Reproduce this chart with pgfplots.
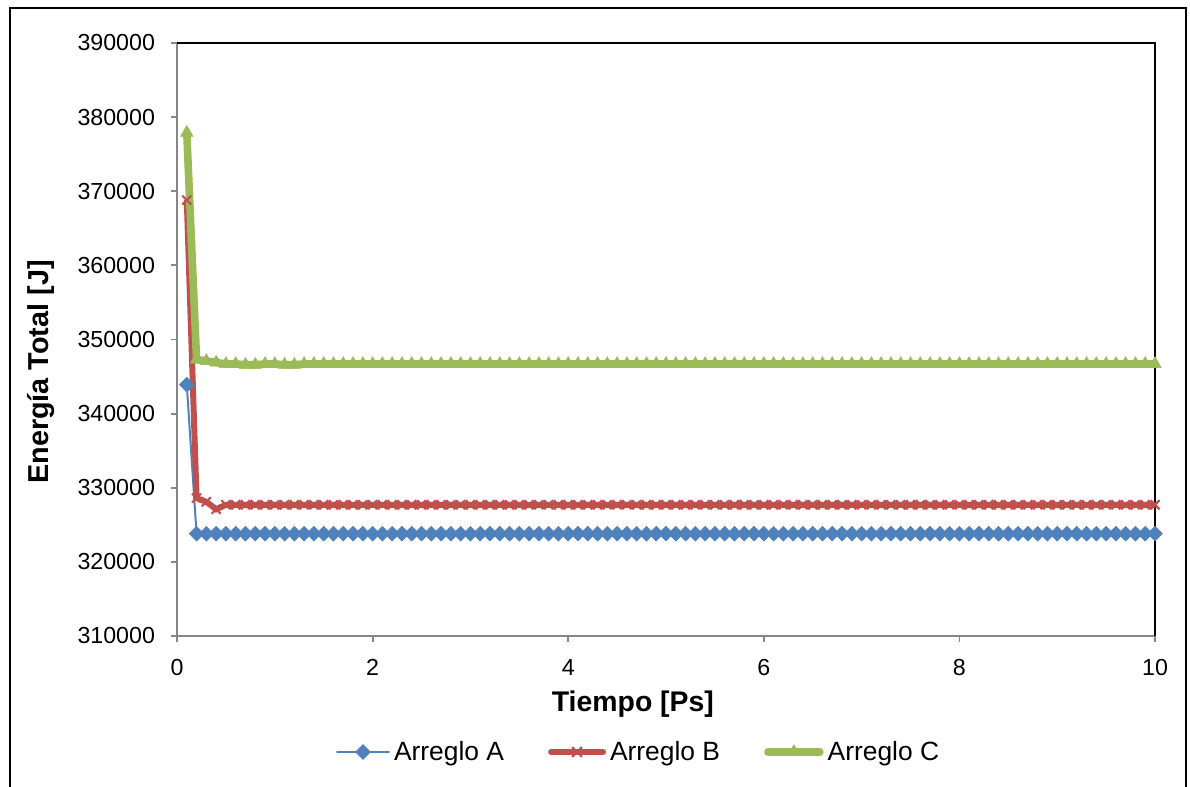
\documentclass[border=0pt]{standalone}
\usepackage{pgfplots}
\pgfplotsset{compat=1.18}
\usepackage{pgfplotstable}
\usepackage{fontspec}
\setmainfont{Liberation Sans}
\definecolor{serA}{HTML}{4F81BD}
\definecolor{serB}{HTML}{C0504D}
\definecolor{serC}{HTML}{9BBB59}
\definecolor{axgray}{HTML}{868686}

\pgfplotstableread{
x a b c
0.1 343900 368800 377900
0.2 323800 328600 347300
0.3 323800 328100 347100
0.4 323800 327100 346900
0.5 323800 327700 346700
0.6 323800 327700 346700
0.7 323800 327700 346600
0.8 323800 327700 346600
0.9 323800 327700 346700
1.0 323800 327700 346700
1.1 323800 327700 346600
1.2 323800 327700 346600
1.3 323800 327700 346700
1.4 323800 327700 346700
1.5 323800 327700 346700
1.6 323800 327700 346700
1.7 323800 327700 346700
1.8 323800 327700 346700
1.9 323800 327700 346700
2.0 323800 327700 346700
2.1 323800 327700 346700
2.2 323800 327700 346700
2.3 323800 327700 346700
2.4 323800 327700 346700
2.5 323800 327700 346700
2.6 323800 327700 346700
2.7 323800 327700 346700
2.8 323800 327700 346700
2.9 323800 327700 346700
3.0 323800 327700 346700
3.1 323800 327700 346700
3.2 323800 327700 346700
3.3 323800 327700 346700
3.4 323800 327700 346700
3.5 323800 327700 346700
3.6 323800 327700 346700
3.7 323800 327700 346700
3.8 323800 327700 346700
3.9 323800 327700 346700
4.0 323800 327700 346700
4.1 323800 327700 346700
4.2 323800 327700 346700
4.3 323800 327700 346700
4.4 323800 327700 346700
4.5 323800 327700 346700
4.6 323800 327700 346700
4.7 323800 327700 346700
4.8 323800 327700 346700
4.9 323800 327700 346700
5.0 323800 327700 346700
5.1 323800 327700 346700
5.2 323800 327700 346700
5.3 323800 327700 346700
5.4 323800 327700 346700
5.5 323800 327700 346700
5.6 323800 327700 346700
5.7 323800 327700 346700
5.8 323800 327700 346700
5.9 323800 327700 346700
6.0 323800 327700 346700
6.1 323800 327700 346700
6.2 323800 327700 346700
6.3 323800 327700 346700
6.4 323800 327700 346700
6.5 323800 327700 346700
6.6 323800 327700 346700
6.7 323800 327700 346700
6.8 323800 327700 346700
6.9 323800 327700 346700
7.0 323800 327700 346700
7.1 323800 327700 346700
7.2 323800 327700 346700
7.3 323800 327700 346700
7.4 323800 327700 346700
7.5 323800 327700 346700
7.6 323800 327700 346700
7.7 323800 327700 346700
7.8 323800 327700 346700
7.9 323800 327700 346700
8.0 323800 327700 346700
8.1 323800 327700 346700
8.2 323800 327700 346700
8.3 323800 327700 346700
8.4 323800 327700 346700
8.5 323800 327700 346700
8.6 323800 327700 346700
8.7 323800 327700 346700
8.8 323800 327700 346700
8.9 323800 327700 346700
9.0 323800 327700 346700
9.1 323800 327700 346700
9.2 323800 327700 346700
9.3 323800 327700 346700
9.4 323800 327700 346700
9.5 323800 327700 346700
9.6 323800 327700 346700
9.7 323800 327700 346700
9.8 323800 327700 346700
9.9 323800 327700 346700
10.0 323800 327700 346700
}\data

\begin{document}
\begin{tikzpicture}
\useasboundingbox (0pt,0pt) rectangle (595pt,393.5pt);
\draw[black, line width=1pt] (5pt,-5pt) -- (5pt,389.5pt) -- (593pt,389.5pt) -- (593pt,-5pt);
\begin{axis}[
  at={(88.5pt,75.5pt)}, anchor=south west,
  scale only axis, width=489pt, height=296.5pt,
  xmin=0, xmax=10, ymin=310000, ymax=390000,
  xtick={0,2,4,6,8,10},
  ytick={310000,320000,330000,340000,350000,360000,370000,380000,390000},
  scaled y ticks=false,
  yticklabel style={/pgf/number format/fixed, /pgf/number format/1000 sep={}, xshift=-4.5pt},
  xticklabel style={yshift=-5pt},
  /pgf/number format/assume math mode=true,
  ticklabel style={font=\fontsize{11.6}{13}\selectfont},
  axis x line*=bottom, axis y line*=left,
  axis line style={axgray, line width=0.9pt, -},
  tick align=outside, major tick length=3pt,
  tick style={axgray, line width=0.9pt},
  clip=false,
  legend columns=3,
  legend style={at={(axis description cs:0.473,-0.1956)}, anchor=center,
    draw=none, fill=none, font=\fontsize{13.2}{15}\selectfont,
    /tikz/every even column/.append style={column sep=20pt}},
  legend image code/.code={\draw[mark repeat=2,mark phase=2,line cap=round,#1] plot coordinates {(0pt,0pt) (13pt,0pt) (26pt,0pt)};},
]
\draw[black, line width=0.9pt] (rel axis cs:0,1) -- (rel axis cs:1,1) -- (rel axis cs:1,0);
\addplot[serA, line width=1pt, mark=square*, mark size=2.6pt, mark options={rotate=45, fill=serA, draw=serA, line width=0.3pt}] table[x=x, y=a] {\data};
\addlegendentry{Arreglo A}
\addplot[serB, line width=3pt, mark=x, mark size=3.2pt, mark options={line width=1.1pt, serB}] table[x=x, y=b] {\data};
\addlegendentry{Arreglo B}
\addplot[serC, line width=3.8pt, mark=triangle*, mark size=3.6pt, mark options={line width=0.3pt, fill=serC, draw=serC}] table[x=x, y=c] {\data};
\addlegendentry{Arreglo C}
\end{axis}
\node[rotate=90, anchor=base, inner sep=0pt, font=\fontsize{14.4}{16}\selectfont\bfseries] at (24.15pt,207.5pt) {Energía Total [J]};
\node[anchor=base, inner sep=0pt, font=\fontsize{14.2}{16}\selectfont\bfseries] at (316.45pt,37.65pt) {Tiempo [Ps]};
\end{tikzpicture}
\end{document}
